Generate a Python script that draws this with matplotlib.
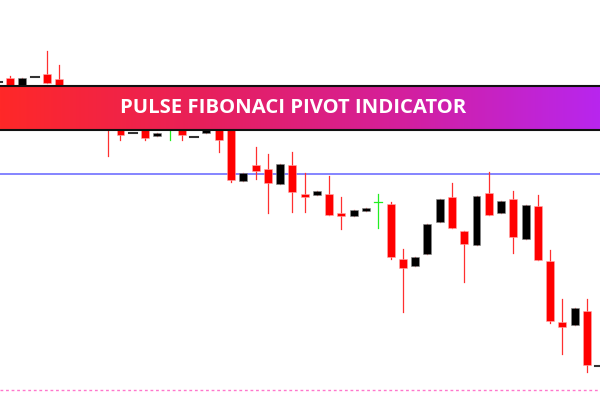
import matplotlib
matplotlib.use("Agg")
import matplotlib.pyplot as plt
import numpy as np
from matplotlib.colors import LinearSegmentedColormap

# candle data (index -1 .. 48), price scale is arbitrary
idx = np.arange(-1, 49)
opens = [318, 322, 310, 323, 326, 321, 305, 288, 295, 290, 278, 267, 272, 264, 282, 275, 263, 267,
         272, 272, 219, 235, 231, 216, 235, 206, 205, 206, 187, 184, 189, 198, 196, 141, 134, 146,
         178, 203, 169, 155, 207, 187, 201, 161, 194, 139, 78, 75, 89, 34]
closes = [318, 312, 322, 323, 317, 305, 290, 300, 282, 275, 265, 267, 262, 267, 282, 265, 263, 272,
          260, 220, 227, 229, 217, 236, 208, 203, 209, 185, 184, 190, 192, 198, 143, 132, 143, 176,
          201, 172, 156, 204, 185, 199, 163, 195, 140, 79, 73, 92, 35, 34]
highs = [318, 324, 322, 323, 349, 335, 307, 302, 298, 292, 280, 267, 274, 267, 290, 277, 263, 272,
         274, 273, 227, 253, 246, 236, 248, 227, 209, 224, 203, 190, 192, 206, 198, 151, 143, 176,
         201, 217, 169, 204, 228, 199, 209, 195, 205, 150, 101, 92, 101, 34]
lows = [318, 312, 310, 323, 317, 305, 288, 286, 280, 244, 260, 267, 260, 264, 260, 260, 263, 267,
        248, 218, 219, 221, 187, 216, 188, 188, 205, 185, 171, 184, 189, 172, 141, 88, 134, 146,
        178, 172, 118, 155, 185, 187, 147, 161, 140, 77, 46, 75, 28, 34]
green_idx = [13, 30]

pivot_level = 226
support_level = 10
title = "PULSE FIBONACI PIVOT INDICATOR"

fig = plt.figure(figsize=(6, 4), dpi=100)
ax = fig.add_axes([0, 0, 1, 1])
ax.set_xlim(-0.815, 48.06)
ax.set_ylim(0, 400)
ax.axis("off")

ax.axhline(pivot_level, color="#7070ff", linewidth=1.2, zorder=1)
ax.axhline(support_level, color="#ff77cc", linewidth=1, linestyle=(0, (2, 2)), zorder=1)

w = 0.65
for i, o, c, h, l in zip(idx, opens, closes, highs, lows):
    if i in green_idx:
        ax.plot([i, i], [l, h], color="#22ee22", linewidth=0.9, zorder=2)
        ax.plot([i - w / 2, i + w / 2], [o, o], color="#22ee22", linewidth=0.9, zorder=2)
        continue
    if o == c:
        ax.plot([i - w / 2, i + w / 2], [o, o], color="#333333", linewidth=1.5, zorder=2)
        continue
    col = "#ff0000" if c < o else "#000000"
    ax.plot([i, i], [l, h], color="#ff3030", linewidth=0.9, zorder=2)
    ax.bar(i, abs(o - c), bottom=min(o, c), width=w, color=col,
           edgecolor="#ffaaaa" if col == "#ff0000" else "#888888", linewidth=0.4, zorder=3)

# title banner
cmap = LinearSegmentedColormap.from_list("banner", ["#ff2828", "#e8205a", "#d41f9c", "#b826ee"])
grad = np.linspace(0, 1, 256).reshape(1, -1)
ax.imshow(grad, cmap=cmap, aspect="auto", extent=[-0.815, 48.06, 270, 314], zorder=5)
ax.axhline(314, color="#111111", linewidth=1.5, zorder=6)
ax.axhline(270, color="#111111", linewidth=1.5, zorder=6)
ax.text(0.488, 292 / 400, title, transform=ax.transAxes, ha="center", va="center",
        color="white", fontsize=14.6, fontweight="bold", family=["Open Sans", "DejaVu Sans"], zorder=7)

fig.savefig("out.png", dpi=100)
